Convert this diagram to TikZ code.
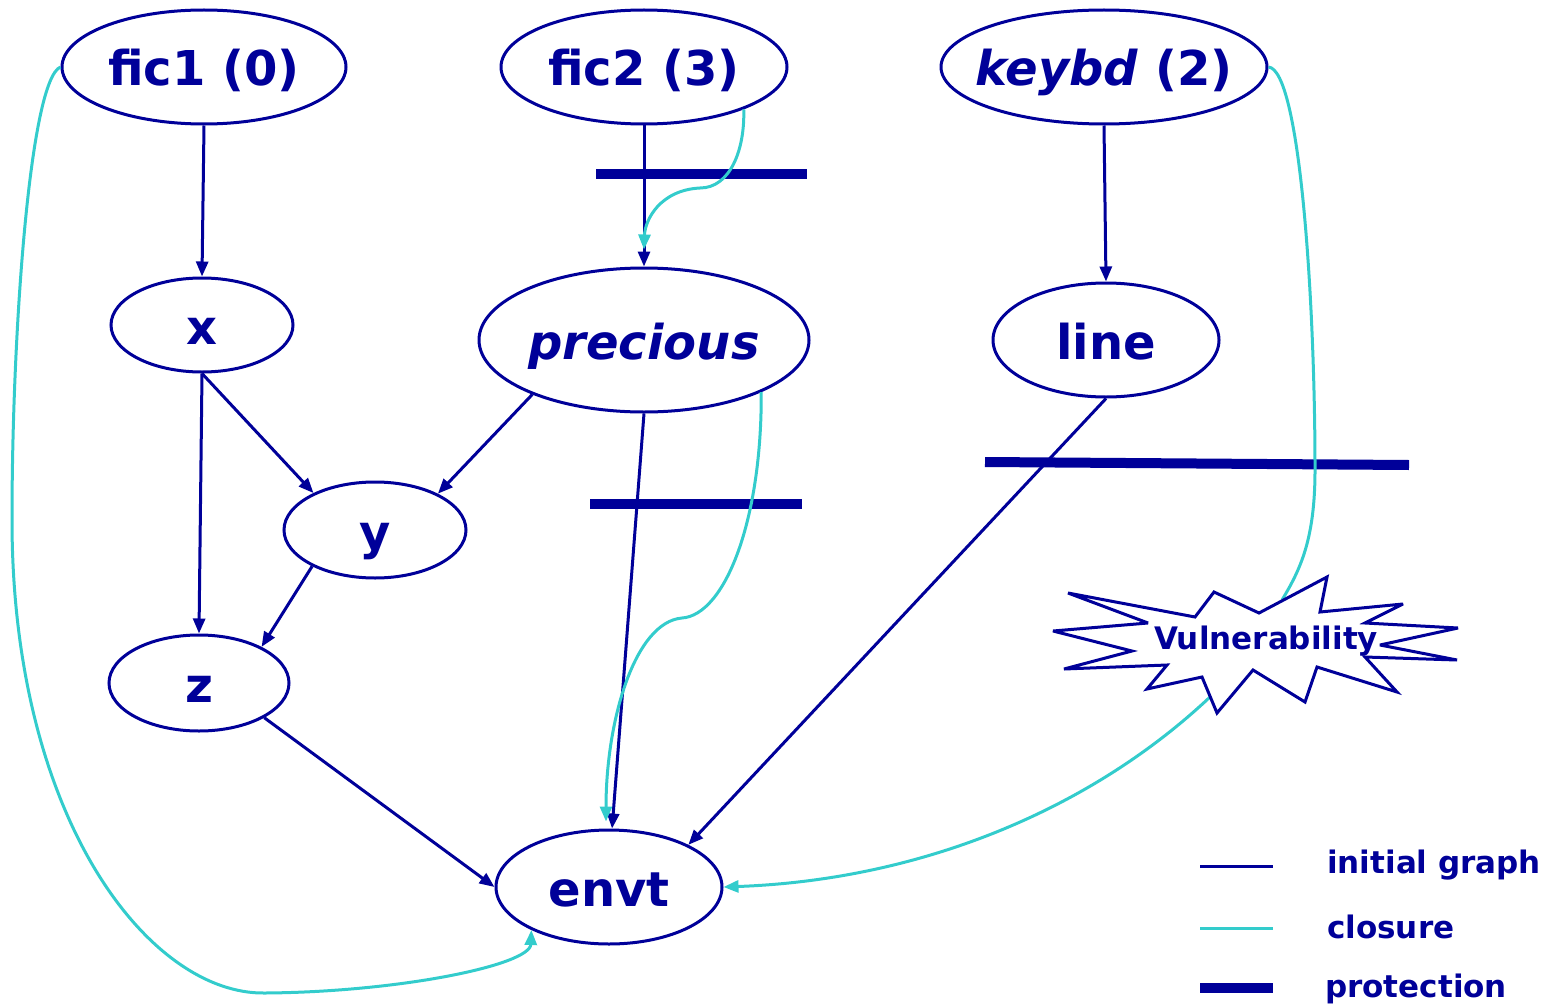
\documentclass[tikz,border=0pt]{standalone}
\usepackage{fontspec}
\setmainfont{DejaVu Sans}
\usetikzlibrary{shapes.geometric,arrows.meta}
\definecolor{dkb}{RGB}{0,0,153}
\definecolor{cyn}{RGB}{51,204,204}
\newcommand{\etxt}[1]{\makebox[0pt][c]{\raisebox{-19pt}[0pt][0pt]{#1}}}
\begin{document}
\begin{tikzpicture}[x=1pt,y=-1pt,
 ell/.style={ellipse,draw=dkb,line width=3pt,fill=white,inner sep=0pt,text=dkb,font=\fontsize{48}{54}\selectfont\bfseries},
 ini/.style={draw=dkb,line width=3pt,-{Triangle[length=15pt,width=12pt]}},
 clo/.style={draw=cyn,line width=3pt,-{Triangle[length=15pt,width=12pt]}},
 prot/.style={draw=dkb,line width=10pt},
 leg/.style={line width=3pt},
 lab/.style={text=dkb,font=\fontsize{31}{36}\selectfont\bfseries,anchor=west,inner sep=0pt}]
\useasboundingbox (0,0) rectangle (1557,1006);

% nodes
\node[ell,minimum width=284pt,minimum height=114pt] (fic1) at (204,67) {\etxt{fic1 (0)}};
\node[ell,minimum width=286pt,minimum height=114pt] (fic2) at (644,67) {\etxt{fic2 (3)}};
\node[ell,minimum width=326pt,minimum height=114pt] (keybd) at (1104,67) {\etxt{\textit{keybd} (2)}};
\node[ell,minimum width=182pt,minimum height=94pt] (x) at (202,325) {\etxt{x}};
\node[ell,minimum width=330pt,minimum height=144pt] (precious) at (644,340) {\etxt{\textit{precious}}};
\node[ell,minimum width=226pt,minimum height=114pt] (line) at (1106,340) {\etxt{line}};
\node[ell,minimum width=182pt,minimum height=96pt] (y) at (375,530) {\etxt{y}};
\node[ell,minimum width=180pt,minimum height=96pt] (z) at (199,683) {\etxt{z}};
\node[ell,minimum width=226pt,minimum height=114pt] (envt) at (609,887) {\etxt{envt}};

% initial graph edges
\draw[ini] (fic1.south) -- (x.north);
\draw[ini] (fic2.south) -- (precious.north);
\draw[ini] (keybd.south) -- (line.north);
\draw[ini] (x.south) -- (y.149);
\draw[ini] (x.south) -- (z.north);
\draw[ini] (precious.206) -- (y.30);
\draw[ini] (y.210) -- (z.30);
\draw[ini] (z.332) -- (envt.west);
\draw[ini] (precious.south) -- (envt.87);
\draw[ini] (line.south) -- (envt.28);

% protections
\draw[prot] (596,174) -- (807,174);
\draw[prot] (590,504) -- (802,504);
\draw[prot] (985,462) -- (1409,465);

% closure edges
\coordinate (vtop) at (1282,600);
\coordinate (vbot) at (1210,697);
\draw[clo] (fic2.-23) .. controls (745,150) and (730,188) .. (700,188)
  .. controls (660,190) and (645,220) .. ([yshift=17pt]precious.north);
\draw[clo] (precious.-24) .. controls (762,520) and (725,615) .. (682,618)
  .. controls (635,622) and (606,720) .. ([xshift=-3pt,yshift=7pt]envt.north);
\draw[draw=cyn,line width=3pt] (keybd.east) .. controls (1300,70) and (1315,300) .. (1315,470)
  .. controls (1315,540) and (1300,570) .. (vtop);
\draw[clo] (vbot) .. controls (1090,810) and (920,880) .. (envt.east);
\draw[clo] (fic1.west) .. controls (30,80) and (12,330) .. (12,520)
  .. controls (12,820) and (150,995) .. (265,993)
  .. controls (400,992) and (530,965) .. (envt.209);

% vulnerability star
\draw[dkb,line width=3pt,fill=white,miter limit=4]
 (1068,593) -- (1195,617) -- (1214,592) -- (1259,613) -- (1327,577) -- (1320,612)
 -- (1403,604) -- (1365,623) -- (1458,628) -- (1380,645) -- (1457,660) -- (1365,657)
 -- (1397,692) -- (1317,667) -- (1305,702) -- (1253,670) -- (1217,713) -- (1202,677)
 -- (1147,689) -- (1167,665) -- (1064,669) -- (1132,651) -- (1053,631) -- (1148,623) -- cycle;
\node[text=dkb,font=\fontsize{31}{36}\selectfont\bfseries,inner sep=0pt] (vul) at (1266,641) {Vulnerability};

% legend
\coordinate (l1a) at (1200,866); \coordinate (l1b) at (1273,866);
\coordinate (l2a) at (1200,928); \coordinate (l2b) at (1273,928);
\coordinate (l3a) at (1200,988); \coordinate (l3b) at (1273,988);
\draw[dkb,leg] (l1a) -- (l1b);
\draw[cyn,leg] (l2a) -- (l2b);
\draw[dkb,line width=10pt] (l3a) -- (l3b);
\node[lab] (t1) at (1327,865) {initial graph};
\node[lab] (t2) at (1327,927) {closure};
\node[lab] (t3) at (1325,989) {protection};
\end{tikzpicture}
\end{document}
